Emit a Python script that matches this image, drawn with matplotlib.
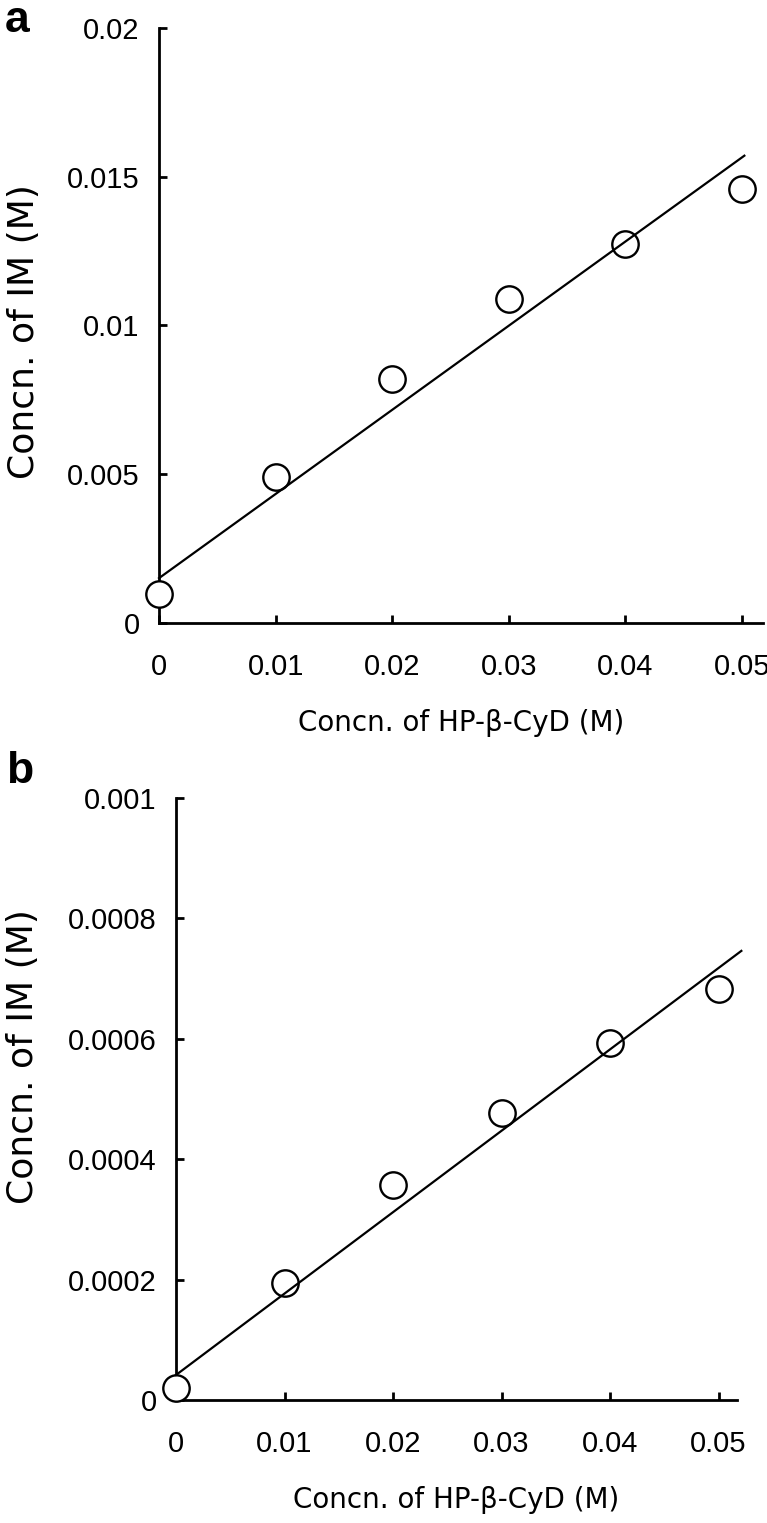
import numpy as np
import matplotlib
matplotlib.use("Agg")
import matplotlib.pyplot as plt

plt.rcParams['font.family'] = ['Liberation Sans', 'DejaVu Sans']

# HP-beta-CyD concentration (M)
cyd = [0, 0.01, 0.02, 0.03, 0.04, 0.05]

# panel a: IM concentration (M)
im_a = [0.00097, 0.0049, 0.0082, 0.0109, 0.01275, 0.01458]
fit_a = (0.283, 0.0015)      # slope, intercept
fit_a_end = 0.0502

# panel b: IM concentration (M)
im_b = [0.00002, 0.000194, 0.000357, 0.000477, 0.000593, 0.000683]
fit_b = (0.01352, 0.0000415)
fit_b_end = 0.0521

xticks = [0, 0.01, 0.02, 0.03, 0.04, 0.05]
xticklabels = ['0', '0.01', '0.02', '0.03', '0.04', '0.05']
yticks_a = [0, 0.005, 0.01, 0.015, 0.02]
yticklabels_a = ['0', '0.005', '0.01', '0.015', '0.02']
yticks_b = [0, 0.0002, 0.0004, 0.0006, 0.0008, 0.001]
yticklabels_b = ['0', '0.0002', '0.0004', '0.0006', '0.0008', '0.001']

fig = plt.figure(figsize=(7.67, 15.23), dpi=100)
ax_a = fig.add_axes([0.2073, 0.5911, 0.7875, 0.3905])
ax_b = fig.add_axes([0.2295, 0.0808, 0.7314, 0.3953])


def draw(ax, y, fit, x_end, yticks, yticklabels, ymax, xmax, ylab_pos):
    xs = np.array([0, x_end])
    ax.plot(xs, fit[0] * xs + fit[1], color='black', lw=1.6, zorder=4,
            clip_on=False)
    ax.plot(cyd, y, 'o', ms=19, mfc='white', mec='black', mew=1.7,
            clip_on=False, zorder=3)
    ax.set_xlim(0, xmax)
    ax.set_ylim(0, ymax)
    ax.set_xticks(xticks)
    ax.set_xticklabels(xticklabels)
    ax.set_yticks(yticks)
    ax.set_yticklabels(yticklabels)
    for s in ['top', 'right']:
        ax.spines[s].set_visible(False)
    for s in ['left', 'bottom']:
        ax.spines[s].set_linewidth(2)
    ax.tick_params(direction='in', length=6, width=2, labelsize=21)
    ax.tick_params(axis='x', pad=22)
    ax.tick_params(axis='y', pad=14)
    ax.set_xlabel('Concn. of HP-β-CyD (M)', fontsize=20, family='DejaVu Sans',
                  labelpad=20)
    ax.set_ylabel('Concn. of IM (M)', fontsize=26, family='DejaVu Sans')
    ax.yaxis.set_label_coords(*ylab_pos)


draw(ax_a, im_a, fit_a, fit_a_end, yticks_a, yticklabels_a, 0.02, 0.0518,
     (-0.196, 0.49))
draw(ax_b, im_b, fit_b, fit_b_end, yticks_b, yticklabels_b, 0.001, 0.0517,
     (-0.242, 0.57))

fig.text(0.006, 0.979, 'a', fontsize=32, fontweight='bold', va='baseline')
fig.text(0.008, 0.486, 'b', fontsize=32, fontweight='bold', va='baseline')

fig.savefig('out.png', dpi=100)
